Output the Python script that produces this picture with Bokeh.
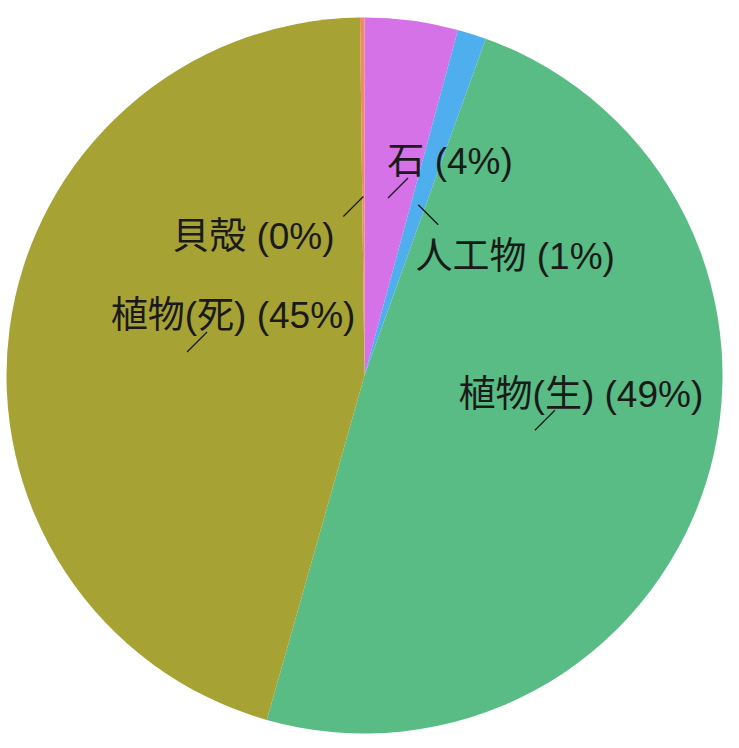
import math
from bokeh.plotting import figure
from bokeh.models import ColumnDataSource, Range1d
from bokeh.core.properties import value
from bokeh.embed import file_html
from bokeh.resources import INLINE

# ---- data (clockwise from 12 o'clock) ----
categories = ["石", "人工物", "植物(生)", "植物(死)", "貝殻"]
shares = [4.2, 1.3, 48.9, 45.4, 0.2]
colors = ["#D672E8", "#4EAEEE", "#58BC84", "#A6A334", "#EE8A68"]

# ---- layout (pixels; x right, y down on screen) ----
R = 358
leader_dir = [(20, -20), (20, 20), (20, -20), (20, -20), (-20, 20)]
label_off = [(42, -17), (77, 32), (26, -16), (26, -16), (-90, 20)]

total = sum(shares)
starts, ends, px, py, ex, ey, lx, ly, texts = [], [], [], [], [], [], [], [], []
cum = 0.0
for name, s, (ddx, ddy), (ox, oy) in zip(categories, shares, leader_dir, label_off):
    a0 = cum / total * 2 * math.pi
    cum += s
    a1 = cum / total * 2 * math.pi
    starts.append(math.pi / 2 - a1)
    ends.append(math.pi / 2 - a0)
    mid = (a0 + a1) / 2
    x0 = 0.5 * R * math.sin(mid)
    y0 = 0.5 * R * math.cos(mid)
    x1, y1 = x0 + ddx, y0 - ddy
    px.append(x0); py.append(y0); ex.append(x1); ey.append(y1)
    lx.append(x1 + ox); ly.append(y1 - oy)
    texts.append(f"{name} ({round(s / total * 100)}%)")

W, H = 730, 740
cx, cy = 364, 375  # pie centre in frame pixels (from top-left)
p = figure(width=W, height=H, x_range=Range1d(-cx, W - cx), y_range=Range1d(-(H - cy), cy),
           output_backend="svg", toolbar_location=None, x_axis_type=None, y_axis_type=None,
           min_border=0)
p.grid.visible = False
p.outline_line_color = None
p.background_fill_color = "white"

wsrc = ColumnDataSource(dict(start=starts, end=ends, color=colors))
p.wedge(x=0, y=0, radius=R, radius_units="data", start_angle="start", end_angle="end",
        fill_color="color", line_color=None, source=wsrc)

p.segment(x0=px, y0=py, x1=ex, y1=ey, line_color="#1a1a1a", line_width=1.3)

tsrc = ColumnDataSource(dict(x=lx, y=ly, t=texts))
p.text(x="x", y="y", text="t", source=tsrc, text_font=value("Liberation Sans, Noto Sans CJK JP"),
       text_font_size="37px", text_align="center", text_baseline="alphabetic",
       text_color="#1a1a1a")

open("out.html", "w").write(file_html(p, INLINE))
